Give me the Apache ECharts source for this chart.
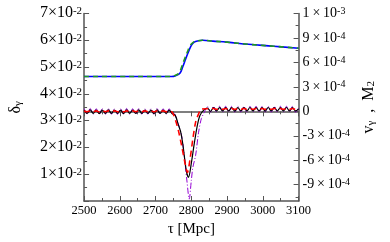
<!DOCTYPE html>
<html><head><meta charset="utf-8">
<script src="https://cdn.jsdelivr.net/npm/echarts@6/dist/echarts.min.js"></script>
<style>html,body{margin:0;padding:0;background:#fff}#c{width:390px;height:242px}</style>
</head><body><div id="c"></div>
<script>
// ---- data ----
const tauTop   = [2500, 2600, 2700, 2745, 2756, 2768, 2776, 2784, 2792, 2800, 2808, 2820, 2832, 2860, 2900, 2960, 3030, 3100];
const deltaBlue  = [0.0465, 0.0465, 0.0465, 0.0465, 0.0468, 0.0477, 0.0501, 0.0530, 0.0557, 0.0581, 0.0593, 0.0598, 0.0600, 0.0597, 0.0593, 0.0585, 0.0578, 0.0570];
const tauTopG  = [2500, 2600, 2700, 2742, 2753, 2765, 2773, 2781, 2789, 2797, 2806, 2818, 2830, 2860, 2900, 2960, 3030, 3100];
const deltaGreen = [0.0465, 0.0465, 0.0465, 0.0465, 0.0468, 0.0477, 0.0501, 0.0530, 0.0557, 0.0581, 0.0593, 0.0598, 0.0600, 0.0597, 0.0593, 0.0585, 0.0578, 0.0570];

const tauL = [2500,2508.5,2517,2525.5,2534,2542.5,2551,2559.5,2568,2576.5,2585,2593.5,2602,2610.5,2619,2627.5,2636,2644.5,2653,2661.5,2670,2678.5,2687,2695.5,2704,2712.5,2721,2729.5,2738,2746.5];
const tauR = [2845,2853.5,2862,2870.5,2879,2887.5,2896,2904.5,2913,2921.5,2930,2938.5,2947,2955.5,2964,2972.5,2981,2989.5,2998,3006.5,3015,3023.5,3032,3040.5,3049,3057.5,3066,3074.5,3083,3091.5,3100];

// values in units of 1e-4
const blackL = [0.15,-0.25,0.17,-0.25,0.15,-0.27,0.15,-0.25,0.17,-0.25,0.15,-0.25,0.15,-0.27,0.17,-0.25,0.15,-0.25,0.17,-0.25,0.15,-0.25,0.15,-0.27,0.17,-0.25,0.15,-0.25,0.15,-0.3];
const blackDipTau = [2755,2764,2770,2776,2786,2792,2800,2808,2816,2824,2836];
const blackDip    = [-0.5,-1.7,-2.5,-4.0,-7.3,-8.1,-6.35,-4.0,-1.9,-0.5,0.2];
const blackR = [0.4,0.0,0.45,0.05,0.45,0.05,0.47,0.05,0.45,0.03,0.45,0.05,0.45,0.05,0.47,0.05,0.45,0.05,0.45,0.03,0.47,0.05,0.45,0.05,0.45,0.05,0.47,0.05,0.45,0.05,0.3];

const violetL = [0.32,-0.35,0.35,-0.35,0.32,-0.37,0.32,-0.35,0.35,-0.35,0.32,-0.35,0.32,-0.37,0.35,-0.35,0.32,-0.35,0.35,-0.35,0.32,-0.35,0.32,-0.37,0.35,-0.35,0.32,-0.35,0.32,-0.35];
const violetDipTau = [2752,2760,2772,2780,2788,2794,2800,2804,2812,2820,2828,2836];
const violetDip    = [-0.3,-1.13,-2.8,-5.39,-8.68,-10.77,-8.44,-6.93,-5.39,-2.64,-0.89,-0.16];
const violetR = [0.6,-0.1,0.62,-0.08,0.62,-0.1,0.62,-0.08,0.62,-0.1,0.62,-0.08,0.62,-0.1,0.62,-0.08,0.62,-0.1,0.62,-0.08,0.62,-0.1,0.62,-0.08,0.62,-0.1,0.62,-0.08,0.62,-0.1,0.4];

const redL = [0.05,-0.05,0.05,-0.05,0.05,-0.06,0.05,-0.05,0.05,-0.05,0.05,-0.05,0.05,-0.06,0.05,-0.05,0.05,-0.05,0.05,-0.05,0.05,-0.05,0.05,-0.06,0.05,-0.05,0.05,-0.05,0.0,-0.1];
const redDipTau = [2756,2764,2772,2784,2789,2796,2804,2812,2820,2828];
const redDip    = [-1.13,-2.4,-4.03,-6.7,-7.5,-5.97,-3.45,-1.32,-0.35,0.27];
const redR = [0.32,0.25,0.35,0.25,0.35,0.25,0.35,0.25,0.35,0.25,0.35,0.25,0.35,0.25,0.35,0.25,0.35,0.25,0.35,0.25,0.35,0.25,0.35,0.25,0.35,0.25,0.35,0.25,0.35,0.25,0.3];

const xTicks = [2500,2600,2700,2800,2900,3000,3100];
const xTickLabels = ['2500','2600','2700','2800','2900','3000','3100'];
const leftTicks = [0.01,0.02,0.03,0.04,0.05,0.06,0.07];
const leftMant  = ['1','2','3','4','5','6','7'];
const rightTicks = [-9,-6,-3,0,3,6,9,12];          // units of 1e-4
const rightMant  = ['-9','-6','-3','0','3','6','9','1'];
const rightExp   = ['-4','-4','-4','','-4','-4','-4','-3'];
const rightMinor = [-10.5,-7.5,-4.5,-1.5,1.5,4.5,7.5,10.5];

// ---- chart ----
const FF = 'Liberation Serif';
const TS = '\u2009';
function pairs(t, v){ return t.map((x,i)=>[x, v[i]]); }
const richRight = {
  b:{fontFamily:FF,fontSize:14,color:'#000',verticalAlign:'bottom',lineHeight:14,padding:[5,0,0,0]},
  s:{fontFamily:FF,fontSize:10,color:'#000',verticalAlign:'top',lineHeight:10}
};
const richLeft = {
  b:{fontFamily:FF,fontSize:16,color:'#000',verticalAlign:'bottom',lineHeight:15,padding:[5,0,0,0]},
  s:{fontFamily:FF,fontSize:11,color:'#000',verticalAlign:'top',lineHeight:10}
};
const axisCol = '#555';
const chart = echarts.init(document.getElementById('c'));
const common = {
  axisLine:{show:true,lineStyle:{color:axisCol,width:1.5}},
  splitLine:{show:false}
};
chart.setOption({
  animation:false,
  grid:{left:71,right:71,top:7,bottom:37},
  xAxis:[
    {type:'value',min:2500,max:3100,interval:100,position:'bottom',
     ...common,
     axisTick:{show:true,inside:true,length:5,lineStyle:{color:axisCol}},
     minorTick:{show:true,splitNumber:2,length:3,lineStyle:{color:axisCol}},
     axisLabel:{fontFamily:FF,fontSize:12.5,color:'#000',margin:3,
       formatter:(v)=>{const i=xTicks.indexOf(v); return i<0?'':xTickLabels[i];}},
     name:'τ [Mpc]',nameLocation:'middle',nameGap:21,
     nameTextStyle:{fontFamily:FF,fontSize:15,color:'#000'}},
    {type:'value',min:2500,max:3100,interval:100,position:'top',
     ...common,
     axisTick:{show:true,inside:true,length:5,lineStyle:{color:axisCol}},
     minorTick:{show:true,splitNumber:2,length:3,lineStyle:{color:axisCol}},
     axisLabel:{show:false}}
  ],
  yAxis:[
    {type:'value',min:0,max:0.07,interval:0.01,position:'left',
     ...common,
     axisTick:{show:true,inside:true,length:5,lineStyle:{color:axisCol}},
     minorTick:{show:true,splitNumber:2,length:3,lineStyle:{color:axisCol}},
     axisLabel:{margin:2,showMinLabel:false,rich:richLeft,
       formatter:(v)=>{const i=leftTicks.findIndex(t=>Math.abs(t-v)<1e-9); return i<0?'':'{b|'+leftMant[i]+'×10}{s|-2}';}},
     name:'{a|δ}{u|γ}',nameLocation:'middle',nameGap:52,nameRotate:90,
     nameTextStyle:{rich:{
       a:{fontFamily:FF,fontSize:16,color:'#000',verticalAlign:'top',lineHeight:16,padding:[0,0,5,0]},
       u:{fontFamily:FF,fontSize:11,color:'#000',verticalAlign:'bottom',lineHeight:11}}}},
    {type:'value',min:-11,max:12,position:'right',
     ...common,
     axisTick:{show:true,inside:true,length:5,customValues:rightTicks,lineStyle:{color:axisCol}},
     axisLabel:{margin:4,rich:richRight,customValues:rightTicks,
       formatter:(v)=>{const i=rightTicks.findIndex(t=>Math.abs(t-v)<1e-9); if(i<0) return ''; return rightExp[i]?'{b|'+rightMant[i]+TS+'×'+TS+'10}{s|'+rightExp[i]+'}':'{b|'+rightMant[i]+'}';}},
     name:'{a|v}{u|γ}{a|  ,  M}{u|2}',nameLocation:'middle',nameGap:62,nameRotate:90,
     nameTextStyle:{rich:{
       a:{fontFamily:FF,fontSize:16,color:'#000',verticalAlign:'top',lineHeight:16,padding:[0,0,5,0]},
       u:{fontFamily:FF,fontSize:11,color:'#000',verticalAlign:'bottom',lineHeight:11}}}},
    {type:'value',min:-11,max:12,position:'right',
     axisLine:{show:false},splitLine:{show:false},axisLabel:{show:false},
     axisTick:{show:true,inside:true,length:3,customValues:rightMinor,lineStyle:{color:axisCol}}}
  ],
  series:[
    {type:'line',yAxisIndex:0,data:pairs(tauTop,deltaBlue),showSymbol:false,smooth:0.4,
     lineStyle:{color:'#0000ff',width:1.6}},
    {type:'line',yAxisIndex:0,data:pairs(tauTopG,deltaGreen),showSymbol:false,smooth:0.4,
     lineStyle:{color:'#1f9a1f',width:1.6,type:[5,4]}},
    {type:'line',yAxisIndex:1,data:pairs(tauL,violetL).concat(pairs(violetDipTau,violetDip),pairs(tauR,violetR)),showSymbol:false,smooth:0.3,
     lineStyle:{color:'#9400d3',width:1,type:[6,2,1,2]}},
    {type:'line',yAxisIndex:1,data:pairs(tauL,blackL).concat(pairs(blackDipTau,blackDip),pairs(tauR,blackR)),showSymbol:false,smooth:0.3,
     lineStyle:{color:'#000',width:1.2}},
    {type:'line',yAxisIndex:1,data:pairs(tauL,redL).concat(pairs(redDipTau,redDip),pairs(tauR,redR)),showSymbol:false,smooth:0.3,
     lineStyle:{color:'#ff0000',width:1.6,type:[6,4]}}
  ]
});
</script></body></html>
